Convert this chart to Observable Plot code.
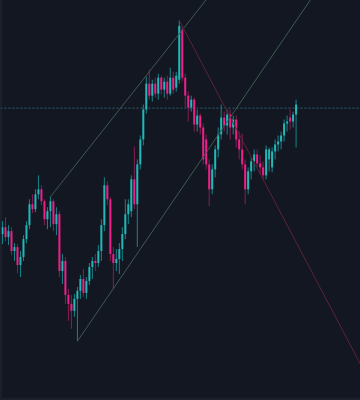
<!DOCTYPE html>
<html>
<head>
<meta charset="utf-8">
<script src="https://cdn.jsdelivr.net/npm/d3@7"></script>
<script src="https://cdn.jsdelivr.net/npm/@observablehq/plot@0.6"></script>
<style>
  html, body { margin: 0; padding: 0; background: #131722; }
  #chart { width: 360px; height: 400px; overflow: hidden; }
</style>
</head>
<body>
<div id="chart"></div>
<script>
// OHLC values (price units)
const opens  = [165,172,162,168,148,152,134,142,160,174,195,190,205,210,198,180,188,198,175,185,
                128,138,104,95,88,100,108,120,106,118,132,138,136,148,174,214,200,145,136,140,
                150,165,185,188,220,195,235,260,290,316,304,316,306,322,310,318,306,322,312,320,
                370,322,304,292,300,275,284,272,260,235,210,230,250,265,282,274,285,272,280,260,
                250,235,210,228,238,245,236,232,224,240,232,248,255,258,264,276,282,278,285];
const highs  = [178,182,174,172,156,155,148,164,178,200,205,210,224,214,200,192,203,200,192,188,
                145,142,110,104,105,112,124,130,122,136,142,145,154,180,222,218,202,152,150,156,
                172,200,200,224,253,240,264,295,323,330,320,322,326,324,322,324,332,328,328,380,
                374,326,308,304,302,290,286,276,265,240,235,254,272,295,288,290,290,284,284,268,
                266,240,232,242,250,250,244,238,254,252,252,260,264,268,280,284,290,288,300];
const lows   = [155,158,154,144,138,126,122,138,156,170,186,187,200,194,174,170,172,168,164,122,
                115,95,78,70,82,58,100,102,100,114,120,128,132,138,168,194,138,110,128,125,
                138,160,175,182,190,152,230,254,286,300,298,302,300,305,302,300,304,306,308,316,
                318,292,278,288,268,268,265,235,230,193,205,222,242,260,268,265,260,265,252,240,
                230,195,205,220,228,232,225,220,220,228,227,240,248,250,258,268,270,272,252];
const closes = [172,162,168,148,152,134,142,160,174,195,190,205,210,198,180,188,198,175,185,128,
                138,104,95,88,100,108,120,106,118,132,138,136,148,174,214,200,145,136,140,150,
                165,185,195,220,195,235,260,290,316,304,316,306,322,310,318,306,322,310,324,374,
                322,304,292,300,275,284,272,240,235,210,230,250,265,282,274,285,272,280,260,250,
                235,210,228,238,245,236,232,224,250,250,248,255,258,264,276,278,278,285,295];

// drawings: trend lines (bar index, price) and a horizontal price level
const upperLine = [[16, 203], [72, 416]];
const lowerLine = [[25, 58], [104, 406]];
const downLine  = [[59, 380], [120, 32]];
const priceLevel = [292];

const UP = "#22b8b8", DOWN = "#ee1f8a";
const UP_WICK = "#17858a", DOWN_WICK = "#8a1c55";

const bars = opens.map((o, i) => ({i, open: o, high: highs[i], low: lows[i], close: closes[i]}));
const up = d => d.close >= d.open;

const chart = Plot.plot({
  width: 360,
  height: 400,
  marginTop: 0,
  marginRight: 0,
  marginBottom: 1.5,
  marginLeft: 0.5,
  style: {background: "#131722"},
  x: {domain: [-0.5, 119.5], axis: null},
  y: {domain: [0, 400], axis: null},
  marks: [
    Plot.ruleY(priceLevel, {stroke: "#2a6670", strokeWidth: 1, strokeDasharray: "2,2"}),
    Plot.ruleX(bars, {x: "i", y1: "low", y2: "high", stroke: d => up(d) ? UP_WICK : DOWN_WICK, strokeWidth: 1}),
    Plot.ruleX(bars, {x: "i", y1: "open", y2: "close", stroke: d => up(d) ? UP : DOWN, strokeWidth: 2}),
    Plot.line(upperLine, {x: d => d[0], y: d => d[1], stroke: "#3f5a4e", strokeWidth: 1, clip: true}),
    Plot.line(lowerLine, {x: d => d[0], y: d => d[1], stroke: "#3f5a4e", strokeWidth: 1, clip: true}),
    Plot.line(downLine, {x: d => d[0], y: d => d[1], stroke: "#5c2435", strokeWidth: 1, clip: true}),
    Plot.ruleX([-0.5], {stroke: "#252a36"}),
    Plot.ruleY([0], {stroke: "#252a36"})
  ]
});
document.getElementById("chart").appendChild(chart);
</script>
</body>
</html>
